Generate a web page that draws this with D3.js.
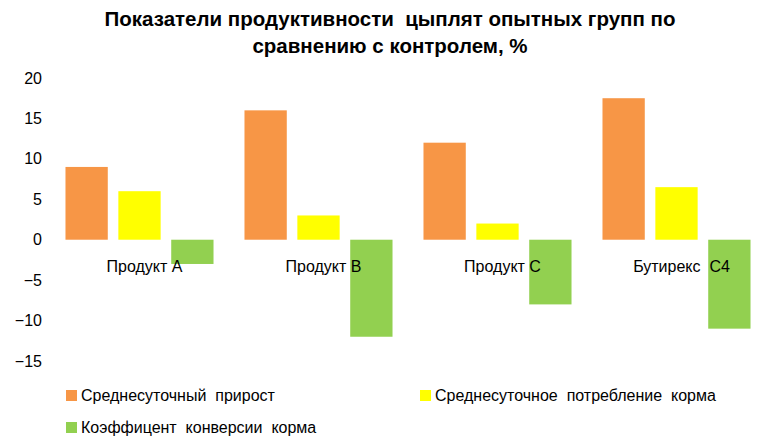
<!DOCTYPE html>
<html><head><meta charset="utf-8">
<script src="https://cdn.jsdelivr.net/npm/d3@7"></script>
<style>body{margin:0;background:#fff}text{font-family:"Liberation Sans",Arial,sans-serif;white-space:pre}</style>
</head><body><svg id="c" width="777" height="442"></svg>
<script>
const categories = ["Продукт А","Продукт В","Продукт С","Бутирекс  С4"];
const seriesNames = ["Среднесуточный  прирост","Среднесуточное  потребление  корма","Коэффицент  конверсии  корма"];
const gain = [9, 16, 12, 17.5];
const intake = [6, 3, 2, 6.5];
const conversion = [-3, -12, -8, -11];
const yTicks = [-15,-10,-5,0,5,10,15,20];
const colors = ["#F79646","#FFFF00","#92D050"];
const series = [gain, intake, conversion];

const svg = d3.select("#c");
const y = d3.scaleLinear().domain([-15,20]).range([361,78]);
const x0 = d3.scaleBand().domain(categories).range([50,766]).paddingInner(0.173).paddingOuter(0.0865);
const x1 = d3.scaleBand().domain([0,1,2]).range([0,x0.bandwidth()]).paddingInner(0.2);

svg.append("text").attr("x",390).attr("y",26).attr("text-anchor","middle").attr("font-weight","bold").attr("font-size",20.5).text("Показатели продуктивности  цыплят опытных групп по");
svg.append("text").attr("x",390).attr("y",53).attr("text-anchor","middle").attr("font-weight","bold").attr("font-size",20.5).text("сравнению с контролем, %");

const ax = svg.append("g").attr("transform","translate(48,0)").call(d3.axisLeft(y).tickValues(yTicks).tickSize(0).tickPadding(6).tickFormat(d3.format("d")));
ax.select(".domain").remove();
ax.selectAll("text").attr("font-size",16).attr("fill","#000").style("font-family","Liberation Sans, Arial, sans-serif");

categories.forEach((c,i)=>{
  series.forEach((s,j)=>{
    const v=s[i];
    svg.append("rect").attr("x",x0(c)+x1(j)).attr("width",x1.bandwidth())
      .attr("y",y(Math.max(0,v))).attr("height",Math.abs(y(v)-y(0))).attr("fill",colors[j]);
  });
  svg.append("text").attr("x",x0(c)+x0.bandwidth()/2+5).attr("y",272).attr("text-anchor","middle").attr("font-size",16).text(c);
});

const leg=[[66,396],[420,396],[66,428]];
seriesNames.forEach((n,j)=>{
  svg.append("rect").attr("x",leg[j][0]).attr("y",leg[j][1]-6).attr("width",11).attr("height",11).attr("fill",colors[j]);
  svg.append("text").attr("x",leg[j][0]+15).attr("y",leg[j][1]+5).attr("font-size",16).text(n);
});
</script></body></html>
